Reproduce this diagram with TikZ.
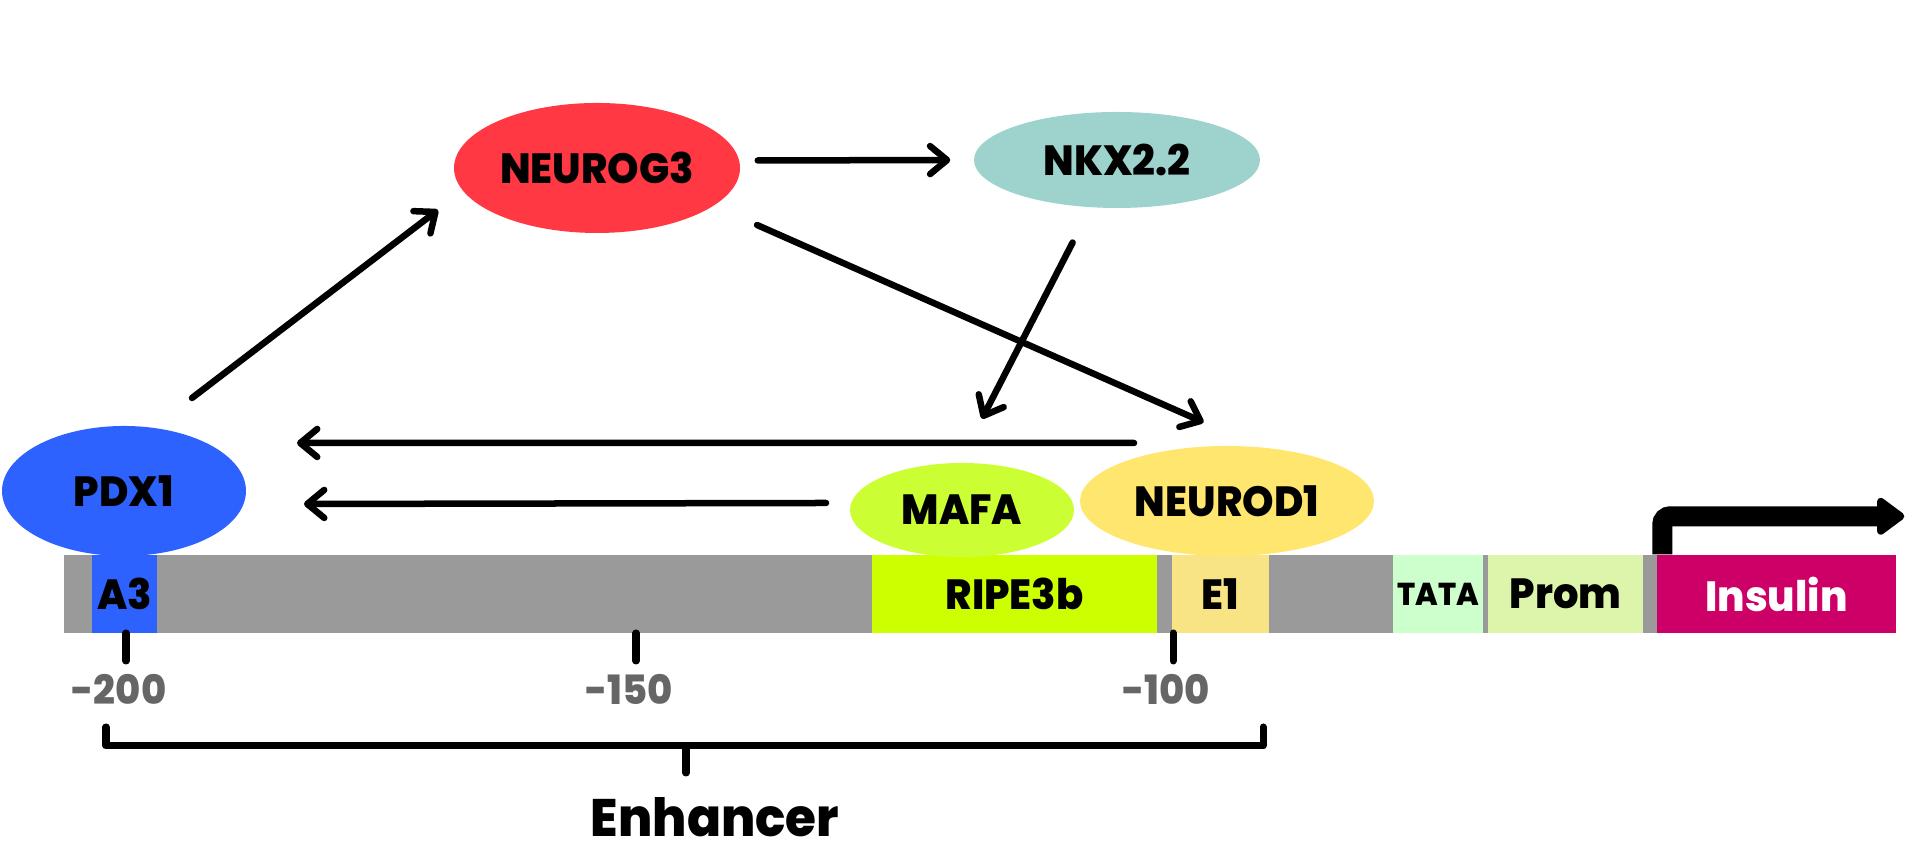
\documentclass[tikz,border=0pt]{standalone}
\usepackage{fontspec}
\setmainfont{Poppins}[BoldFont={Poppins ExtraBold},BoldFeatures={FakeStretch=0.95}]
\usetikzlibrary{shapes.geometric}
\usetikzlibrary{arrows.meta}
\usetikzlibrary{calc}

\definecolor{barGray}{HTML}{9A9A9A}
\definecolor{pdxBlue}{HTML}{2E62FF}
\definecolor{ngnRed}{HTML}{FF3844}
\definecolor{nkxTeal}{HTML}{9DD3CC}
\definecolor{mafaLime}{HTML}{CCFF33}
\definecolor{ndYellow}{HTML}{FFE66E}
\definecolor{ripeLime}{HTML}{CCFF00}
\definecolor{eoneYellow}{HTML}{F8E485}
\definecolor{tataGreen}{HTML}{CCFFCC}
\definecolor{promGreen}{HTML}{DDF5AA}
\definecolor{insMagenta}{HTML}{CC0066}
\definecolor{numGray}{HTML}{666666}

\begin{document}
\begin{tikzpicture}[tf/.style={ellipse,inner sep=0pt,font=\bfseries\fontsize{12}{14}\selectfont}, seg/.style={rectangle,minimum height=0.78cm,inner sep=0pt,font=\bfseries\fontsize{12}{14}\selectfont}, arr/.style={line width=1.85pt,line cap=round,-{Straight Barb[length=1.7mm,width=2.8mm,round]}}, numlab/.style={text=numGray,inner sep=0pt,font=\bfseries\fontsize{11.5}{13}\selectfont}, brace/.style={line width=2pt,line cap=round,line join=round}]
	\useasboundingbox (0,0) rectangle (19.2,8.5);
	
	% promoter bar
	\node[seg,fill=barGray,minimum width=18.32cm] (bar) at (9.80,2.56) {};
	\node[seg,fill=pdxBlue,minimum width=0.65cm] (a3) at (1.245,2.56) {A3};
	\node[seg,fill=ripeLime,minimum width=2.85cm] (ripe) at (10.145,2.56) {RIPE3b};
	\node[seg,fill=eoneYellow,minimum width=0.97cm] (e1) at (12.205,2.56) {E1};
	\node[seg,fill=tataGreen,minimum width=0.90cm,font=\bfseries\fontsize{9}{11}\selectfont] (tata) at (14.38,2.56) {TATA};
	\node[seg,fill=promGreen,minimum width=1.55cm] (prom) at (15.655,2.56) {Prom};
	\node[seg,fill=insMagenta,minimum width=2.39cm,text=white] (ins) at (17.765,2.56) {Insulin};
	
	% factors
	\node[tf,fill=ngnRed,minimum width=2.86cm,minimum height=1.30cm] (ngn3) at (5.97,6.82) {NEUROG3};
	\node[tf,fill=nkxTeal,minimum width=2.86cm,minimum height=0.96cm] (nkx) at (11.17,6.90) {NKX2.2};
	\node[tf,fill=pdxBlue,minimum width=2.44cm,minimum height=1.30cm] (pdx1) at (1.24,3.59) {PDX1};
	\node[tf,fill=mafaLime,minimum width=2.24cm,minimum height=0.94cm] (mafa) at (9.62,3.40) {MAFA};
	\node[tf,fill=ndYellow,minimum width=2.94cm,minimum height=1.10cm] (nd1) at (12.27,3.49) {NEUROD1};
	
	\draw[arr] ($(pdx1)+(0.68,0.93)$) -- ($(ngn3)+(-1.59,-0.42)$);
	\draw[arr,shorten <=0.18cm,shorten >=0.23cm] (ngn3.3) -- (nkx.west);
	\draw[arr,shorten <=0.47cm,shorten >=0.60cm] (ngn3.342) -- (nd1.60);
	\draw[arr,shorten <=0.39cm,shorten >=0.49cm] (nkx.241) -- (mafa.93);
	\draw[arr] ($(nd1)+(-0.93,0.58)$) -- ($(pdx1)+(1.73,0.48)$);
	\draw[arr] ($(mafa)+(-1.36,0.07)$) -- ($(pdx1)+(1.80,-0.13)$);
	
	% transcription start
	\draw[line width=0.2cm,rounded corners=0.08cm,-{Triangle[length=0.3cm,width=0.42cm,round]}] ([xshift=0.06cm]ins.north west) -- ++(0,0.38) -- ++(2.42,0);
	
	% positions
	\foreach \x/\t/\n in {1.26/-200/a,6.36/-150/b,11.73/-100/c}{
		\draw[brace] (\x,2.17) -- (\x,1.89);
		\node[numlab] (pos\n) at (\x-0.07,1.61) {\t};
	}
	
	% enhancer bracket
	\node[inner sep=0pt,font=\bfseries\fontsize{15}{18}\selectfont] (enh) at (7.15,0.33) {Enhancer};
	\draw[brace] (1.06,1.23) -- (1.06,1.04) -- (12.63,1.04) -- (12.63,1.23);
	\draw[brace] (6.86,1.04) -- (6.86,0.77);
\end{tikzpicture}
\end{document}
